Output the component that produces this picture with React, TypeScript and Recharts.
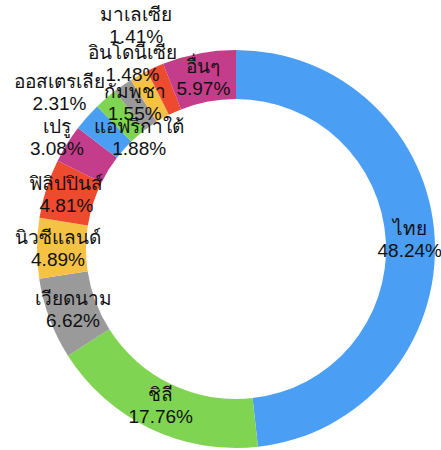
import React from 'react';
import { PieChart, Pie, Cell } from 'recharts';

// countries, clockwise from 12 o'clock
const countries = [
  'ไทย',
  'ชิลี',
  'เวียดนาม',
  'นิวซีแลนด์',
  'ฟิลิปปินส์',
  'เปรู',
  'ออสเตรเลีย',
  'แอฟริกาใต้',
  'กัมพูชา',
  'อินโดนีเซีย',
  'มาเลเซีย',
  'อื่นๆ',
];

const shares = [48.24, 17.76, 6.62, 4.89, 4.81, 3.08, 2.31, 1.88, 1.55, 1.48, 1.41, 5.97];

const colors = [
  '#4a9ef4',
  '#7fd552',
  '#9a9a9a',
  '#f6c245',
  '#ee4a2e',
  '#c43d8a',
];

// distance of each label from the centre (small slices pushed out / in)
const labelRadius = [174, 174, 174, 178, 178, 211, 236, 148, 178, 212, 245, 175];

const chartData = countries.map((name, i) => ({ name, value: shares[i] }));

const RADIAN = Math.PI / 180;

const renderLabel = (props: any) => {
  const { cx, cy, midAngle, index, name, value } = props;
  const r = labelRadius[index];
  const x = cx + r * Math.cos(-midAngle * RADIAN);
  const y = cy + r * Math.sin(-midAngle * RADIAN);
  return (
    <g>
      <text
        x={x}
        y={y - 11}
        textAnchor="middle"
        dominantBaseline="central"
        fill="#111"
        fontSize={19}
      >
        {name}
      </text>
      <text
        x={x}
        y={y + 11}
        textAnchor="middle"
        dominantBaseline="central"
        fill="#111"
        fontSize={19}
      >
        {value.toFixed(2)}%
      </text>
    </g>
  );
};

export default function App() {
  return (
    <div
      style={{
        position: 'absolute',
        left: 0,
        top: 0,
        width: 441,
        height: 450,
        background: '#fff',
        fontFamily: '"Liberation Sans", Arial, sans-serif',
      }}
    >
      <PieChart width={441} height={450} margin={{ top: 0, right: 0, bottom: 0, left: 0 }}>
        <Pie
          data={chartData}
          dataKey="value"
          nameKey="name"
          cx={236}
          cy={249}
          innerRadius={150}
          outerRadius={199}
          startAngle={90}
          endAngle={-270}
          stroke="none"
          label={renderLabel}
          labelLine={false}
          isAnimationActive={false}
        >
          {chartData.map((d, i) => (
            <Cell key={d.name} fill={colors[i % colors.length]} />
          ))}
        </Pie>
      </PieChart>
    </div>
  );
}
